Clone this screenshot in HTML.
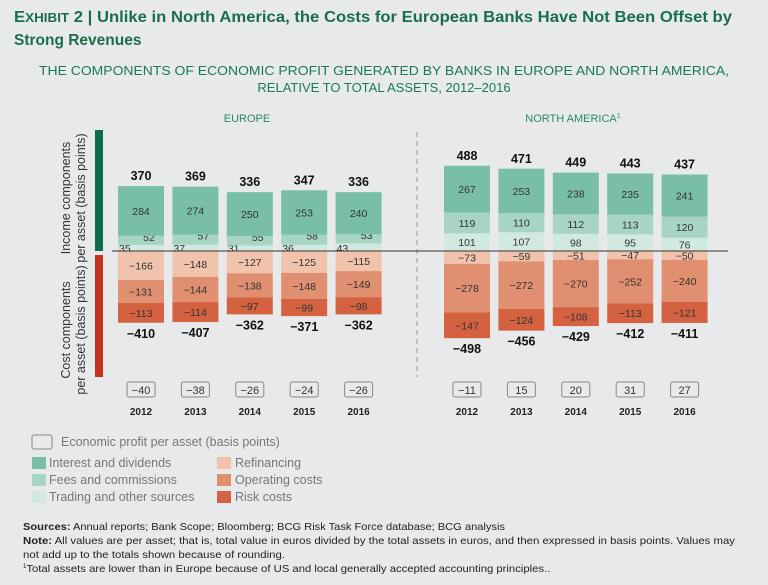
<!DOCTYPE html>
<html><head><meta charset="utf-8"><style>
body{margin:0;background:#e8e9eb;width:768px;height:585px;overflow:hidden;font-family:"Liberation Sans",sans-serif;}
svg{position:absolute;left:0;top:0}
</style></head><body>
<svg id="c" width="768" height="585">
<text x="14" y="22" font-size="15.5" font-weight="bold" fill="#1a6e4e" textLength="718" lengthAdjust="spacingAndGlyphs">E<tspan font-size="12.5">XHIBIT</tspan> 2 | Unlike in North America, the Costs for European Banks Have Not Been Offset by</text>
<text x="14" y="45" font-size="15.5" font-weight="bold" fill="#1a6e4e">Strong Revenues</text>
<text x="384" y="75" font-size="13" fill="#1a7a58" text-anchor="middle" textLength="690" lengthAdjust="spacingAndGlyphs">THE COMPONENTS OF ECONOMIC PROFIT GENERATED BY BANKS IN EUROPE AND NORTH AMERICA,</text>
<text x="384" y="92" font-size="13" fill="#1a7a58" text-anchor="middle">RELATIVE TO TOTAL ASSETS, 2012–2016</text>
<text x="247" y="122" font-size="11" fill="#2a8a68" text-anchor="middle">EUROPE</text>
<text x="573" y="122" font-size="11" fill="#2a8a68" text-anchor="middle">NORTH AMERICA<tspan font-size="7" dy="-4">1</tspan></text>
<rect x="95" y="130" width="8" height="121" fill="#0b6e4f"/>
<rect x="95" y="255" width="8" height="122" fill="#c4321e"/>
<text transform="translate(70,198) rotate(-90)" font-size="12.5" fill="#333" text-anchor="middle">Income components</text>
<text transform="translate(85,198) rotate(-90)" font-size="12.5" fill="#333" text-anchor="middle">per asset (basis points)</text>
<text transform="translate(70,330) rotate(-90)" font-size="12.5" fill="#333" text-anchor="middle">Cost components</text>
<text transform="translate(85,330) rotate(-90)" font-size="12.5" fill="#333" text-anchor="middle">per asset (basis points)</text>
<line x1="417" y1="132" x2="417" y2="377" stroke="#999" stroke-dasharray="5,4"/>
<g id="bars"></g>
<line x1="112" y1="251" x2="728" y2="251" stroke="#333" stroke-width="1"/>
<g font-size="12.5" fill="#777">
<rect x="32" y="435" width="20" height="14" rx="2" fill="none" stroke="#888"/>
<text x="61" y="446">Economic profit per asset (basis points)</text>
<rect x="32" y="457" width="14" height="12" fill="#79bea6"/><text x="49" y="467">Interest and dividends</text>
<rect x="32" y="474" width="14" height="12" fill="#a7d4c3"/><text x="49" y="484">Fees and commissions</text>
<rect x="32" y="491" width="14" height="12" fill="#d2e9e0"/><text x="49" y="501">Trading and other sources</text>
<rect x="217" y="457" width="14" height="12" fill="#f1c3ac"/><text x="235" y="467">Refinancing</text>
<rect x="217" y="474" width="14" height="12" fill="#e08f70"/><text x="235" y="484">Operating costs</text>
<rect x="217" y="491" width="14" height="12" fill="#d4613f"/><text x="235" y="501">Risk costs</text>
</g>
<g font-size="10.5" fill="#222">
<text x="23" y="530" textLength="482" lengthAdjust="spacingAndGlyphs"><tspan font-weight="bold">Sources:</tspan> Annual reports; Bank Scope; Bloomberg; BCG Risk Task Force database; BCG analysis</text>
<text x="23" y="544" textLength="712" lengthAdjust="spacingAndGlyphs"><tspan font-weight="bold">Note:</tspan> All values are per asset; that is, total value in euros divided by the total assets in euros, and then expressed in basis points. Values may</text>
<text x="23" y="558" textLength="262" lengthAdjust="spacingAndGlyphs">not add up to the totals shown because of rounding.</text>
<text x="23" y="572"><tspan font-size="6" dy="-4">1</tspan><tspan dy="4" textLength="524" lengthAdjust="spacingAndGlyphs">Total assets are lower than in Europe because of US and local generally accepted accounting principles..</tspan></text>
</g>
</svg>
<script>
const years=["2012","2013","2014","2015","2016"];
const euInterest=[284,274,250,253,240];
const euFees=[52,57,55,58,53];
const euTrading=[35,37,31,36,43];
const euIncomeTotal=[370,369,336,347,336];
const euRefin=[-166,-148,-127,-125,-115];
const euOper=[-131,-144,-138,-148,-149];
const euRisk=[-113,-114,-97,-99,-98];
const euCostTotal=[-410,-407,-362,-371,-362];
const euProfit=[-40,-38,-26,-24,-26];
const naInterest=[267,253,238,235,241];
const naFees=[119,110,112,113,120];
const naTrading=[101,107,98,95,76];
const naIncomeTotal=[488,471,449,443,437];
const naRefin=[-73,-59,-51,-47,-50];
const naOper=[-278,-272,-270,-252,-240];
const naRisk=[-147,-124,-108,-113,-121];
const naCostTotal=[-498,-456,-429,-412,-411];
const naProfit=[-11,15,20,31,27];

const NS="http://www.w3.org/2000/svg";
const g=document.getElementById('bars');
const base=251,k=0.175,bw=46,step=54.4;
const y=v=>base-v*k;
function mk(tag,a,txt){const e=document.createElementNS(NS,tag);for(const n in a)e.setAttribute(n,a[n]);if(txt!==undefined)e.textContent=txt;g.appendChild(e);return e;}
const fmt=v=>v<0?'\u2212'+(-v):''+v;
function region(x0,reg,I,F,T,IT,R,O,RK,CT,P){
 for(let i=0;i<5;i++){
  const x=x0+i*step,cx=x+bw/2;
  let acc=0;
  const inc=[[T[i],'#d2e9e0','trading'],[F[i],'#a7d4c3','fees'],[I[i],'#79bea6','interest']];
  inc.forEach(([v,c,n])=>{
   const r=mk('rect',{x:x,y:y(acc+v),width:bw,height:v*k,fill:c});
   
   
   let lx=cx,ly=y(acc+v/2)+4,anc='middle';
   if(v*k<12){ if(n==='trading'){lx=x+1;anc='start';ly=base+1;} else {lx=cx+8;ly=y(acc+v)+5;} }
   const t=mk('text',{x:lx,y:ly,'font-size':10.5,fill:'#333','text-anchor':anc},fmt(v));
   
   
   acc+=v;
  });
  const tt=mk('text',{x:cx,y:y(acc)-6,'font-size':12.5,'font-weight':'bold',fill:'#111','text-anchor':'middle'},fmt(IT[i]));
  
  
  acc=0;
  const cost=[[R[i],'#f1c3ac','refinancing'],[O[i],'#e08f70','operating'],[RK[i],'#d4613f','risk']];
  cost.forEach(([v,c,n])=>{
   const r=mk('rect',{x:x,y:y(acc),width:bw,height:-v*k,fill:c});
   
   
   const t=mk('text',{x:cx,y:y(acc+v/2)+4,'font-size':10.5,fill:'#333','text-anchor':'middle'},fmt(v));
   
   
   acc+=v;
  });
  const ct=mk('text',{x:cx,y:y(acc)+15,'font-size':12.5,'font-weight':'bold',fill:'#111','text-anchor':'middle'},fmt(CT[i]));
  
  
  const b=mk('rect',{x:cx-14,y:382,width:28,height:15,rx:2,fill:'none',stroke:'#888'});
  
  
  const pt=mk('text',{x:cx,y:394,'font-size':11,fill:'#333','text-anchor':'middle'},fmt(P[i]));
  
  
  const yl=mk('text',{x:cx,y:415,'font-size':10,'font-weight':'bold',fill:'#222','text-anchor':'middle'},years[i]);
  
  
 }
}
region(118,'europe',euInterest,euFees,euTrading,euIncomeTotal,euRefin,euOper,euRisk,euCostTotal,euProfit);
region(444,'na',naInterest,naFees,naTrading,naIncomeTotal,naRefin,naOper,naRisk,naCostTotal,naProfit);
</script>
</body></html>
